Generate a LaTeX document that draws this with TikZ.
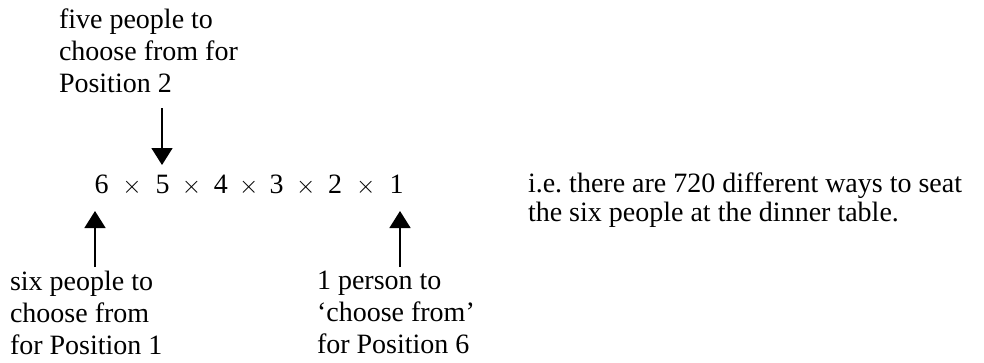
\documentclass[tikz,border=0pt]{standalone}
\usepackage{fontspec}
\setmainfont{Liberation Serif}
\frenchspacing
\usetikzlibrary{arrows.meta,calc}
\tikzset{
  lbl/.style={inner sep=0pt, outer sep=0pt, anchor=north west, align=left, font=\fontsize{28}{32}\selectfont},
  rlbl/.style={inner sep=0pt, outer sep=0pt, anchor=north west, align=left, font=\fontsize{28}{29}\selectfont},
  dig/.style={inner sep=0pt, outer sep=0pt, anchor=base, font=\fontsize{28}{32}\selectfont},
  ptr/.style={line width=1.6pt, -{Triangle[width=21pt,length=17pt]}}
}
\begin{document}
\begin{tikzpicture}[x=1pt,y=-1pt]
\useasboundingbox (0,0) rectangle (984,362);
% equation
\node[dig] (d6) at (101.7,193) {6};
\node[dig] (x1) at (132,193) {$\times$};
\node[dig] (d5) at (162.5,193) {5};
\node[dig] (x2) at (191.5,193) {$\times$};
\node[dig] (d4) at (220.8,193) {4};
\node[dig] (x3) at (248.7,193) {$\times$};
\node[dig] (d3) at (276.7,193) {3};
\node[dig] (x4) at (305.8,193) {$\times$};
\node[dig] (d2) at (335,193) {2};
\node[dig] (x5) at (365.8,193) {$\times$};
\node[dig] (d1) at (396.7,193) {1};
% labels
\node[lbl] (top) at (59,9) {five people to\\choose from for\\Position 2};
\node[lbl] (bl) at (10,271) {six people to\\choose from\\for Position 1};
\node[lbl] (br) at (317,271) {1 person to\\‘choose from’\\for Position 6};
\node[rlbl] (res) at (528,173) {i.e.\ there are 720 different ways to seat\\the six people at the dinner table.};
% arrow ends
\coordinate (a5s) at (162,108);
\coordinate (a5e) at (162,165);
\coordinate (a6s) at (95,267);
\coordinate (a6e) at (95,211);
\coordinate (a1s) at (400,267);
\coordinate (a1e) at (400,211);
\draw[ptr] (a5s) -- (a5e);
\draw[ptr] (a6s) -- (a6e);
\draw[ptr] (a1s) -- (a1e);
\end{tikzpicture}
\end{document}
